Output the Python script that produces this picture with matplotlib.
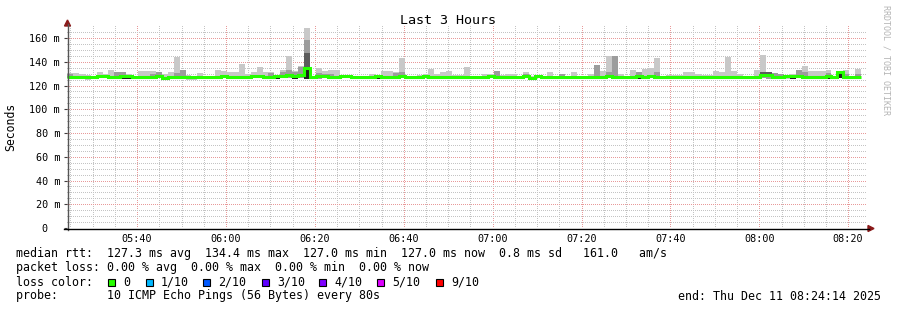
import matplotlib
matplotlib.use("Agg")
import numpy as np
import matplotlib.pyplot as plt
from matplotlib.patches import Rectangle, Polygon
from matplotlib.lines import Line2D
from matplotlib.ticker import FixedLocator

# ---------------- data ----------------
T_START = 24 + 14 / 60.0      # minutes after 05:00 -> 05:24:14
STEP = 80 / 60.0              # 80 s per step
SPAN = 180.0                  # last 3 hours

median_ms = [
    127.0, 127.0, 127.0, 127.0, 127.0, 128.2, 128.2, 127.0, 127.0, 128.2,
    128.2, 127.0, 127.0, 127.0, 127.0, 128.2, 126.6, 127.0, 127.0, 127.0,
    127.0, 127.0, 127.0, 127.0, 127.0, 127.0, 128.2, 127.0, 127.0, 127.0,
    127.0, 128.2, 128.2, 127.0, 127.0, 128.2, 128.2, 128.8, 128.2, 129.0,
    134.5, 127.0, 128.0, 128.0, 127.0, 127.0, 128.2, 128.2, 127.0, 127.0,
    127.0, 127.0, 128.2, 127.0, 127.0, 127.0, 128.2, 127.0, 127.0, 127.0,
    128.2, 127.0, 127.0, 127.0, 127.0, 127.0, 127.0, 127.0, 127.0, 127.0,
    127.0, 128.2, 127.0, 127.0, 127.0, 127.0, 127.0, 128.2, 126.6, 128.2,
    127.0, 127.0, 127.0, 127.0, 127.0, 127.0, 127.0, 127.0, 127.0, 127.0,
    127.0, 128.2, 127.0, 127.0, 127.0, 127.0, 128.2, 127.0, 128.2, 127.0,
    127.0, 127.0, 127.0, 127.0, 127.0, 127.0, 127.0, 127.0, 127.0, 127.0,
    127.0, 127.0, 127.0, 127.0, 127.0, 127.0, 127.0, 128.5, 128.5, 127.0,
    127.0, 128.2, 128.2, 128.2, 127.0, 127.0, 127.0, 127.0, 128.2, 127.0,
    131.0, 127.0, 127.0, 127.0,
]

ping_max = [
    130.8, 130.5, 130.0, 128.5, 128.0, 131.0, 129.5, 133.0, 131.7, 131.7,
    129.5, 128.0, 132.0, 132.0, 132.6, 131.7, 130.0, 131.0, 144.3, 133.0,
    128.5, 128.0, 130.5, 128.0, 128.0, 133.0, 132.0, 131.0, 131.0, 138.4,
    129.5, 131.0, 135.6, 131.4, 131.0, 128.5, 133.3, 144.6, 132.0, 136.4,
    168.7, 128.0, 134.7, 132.0, 133.3, 133.3, 128.5, 128.5, 128.0, 128.0,
    128.0, 129.7, 128.5, 132.0, 132.0, 131.4, 143.4, 128.0, 128.0, 128.5,
    130.0, 134.0, 130.0, 131.0, 132.0, 128.5, 128.7, 135.6, 128.0, 128.0,
    129.5, 129.5, 132.0, 128.5, 130.0, 130.0, 128.0, 131.7, 128.0, 128.5,
    128.0, 131.0, 128.0, 129.5, 128.0, 131.0, 128.0, 128.0, 129.7, 137.3,
    132.5, 144.8, 145.0, 129.5, 128.0, 133.0, 131.0, 134.0, 134.5, 143.4,
    128.0, 129.0, 129.0, 128.5, 131.7, 131.7, 130.0, 129.0, 129.0, 132.0,
    131.0, 144.3, 132.0, 129.7, 128.0, 128.0, 133.5, 145.7, 131.7, 130.2,
    129.5, 128.0, 129.7, 133.0, 136.4, 132.0, 132.0, 132.0, 133.0, 128.0,
    131.0, 133.0, 128.0, 134.0,
]

ping_min = [
    126.0, 126.0, 126.0, 124.6, 126.0, 126.0, 126.0, 126.0, 126.0, 126.0,
    126.0, 125.2, 126.0, 126.0, 126.0, 126.0, 126.0, 126.0, 126.0, 126.0,
    124.6, 125.0, 126.0, 126.0, 126.0, 126.0, 126.0, 126.0, 126.0, 126.0,
    126.0, 126.0, 126.0, 126.0, 125.2, 126.0, 126.0, 126.0, 126.0, 126.0,
    126.0, 126.0, 125.3, 126.0, 126.0, 126.0, 126.0, 126.0, 126.0, 126.0,
    126.0, 126.0, 125.2, 126.0, 126.0, 126.0, 126.0, 126.0, 126.0, 126.0,
    126.0, 126.0, 126.0, 125.2, 126.0, 126.0, 126.0, 126.0, 126.0, 125.2,
    126.0, 126.0, 126.0, 126.0, 126.0, 126.0, 125.5, 126.0, 126.0, 126.0,
    126.0, 126.0, 126.0, 126.0, 126.0, 126.0, 126.0, 126.0, 126.0, 126.0,
    126.0, 126.0, 126.0, 125.2, 126.0, 126.0, 126.0, 126.0, 126.0, 126.0,
    125.4, 126.0, 126.0, 126.0, 126.0, 126.0, 126.0, 126.0, 126.0, 126.0,
    126.0, 126.0, 126.0, 125.2, 126.0, 126.0, 126.0, 126.0, 125.2, 126.0,
    126.0, 125.2, 126.0, 126.0, 126.0, 126.0, 126.0, 126.0, 126.0, 126.0,
    126.0, 126.0, 126.0, 126.0,
]

# medium smoke (sparse)
mid_idx = [0, 8, 9, 14, 15, 18, 19, 34, 36, 37, 38, 39, 40, 42, 43, 44, 55, 56,
           72, 77, 83, 89, 91, 92, 96, 99, 117, 118, 119, 120, 123, 124, 128, 131, 133]
mid_top = [130.0, 131.7, 131.7, 129.5, 131.7, 130.5, 133.0, 130.3, 131.0, 133.0,
           131.0, 135.9, 158.0, 130.5, 129.5, 130.0, 130.5, 131.7, 132.0, 129.5,
           129.5, 137.3, 131.0, 145.0, 131.0, 131.7, 131.7, 131.7, 130.2, 129.5,
           132.8, 131.0, 130.5, 129.5, 129.5]

# dark smoke (sparse)
dark_idx = [40, 117, 118]
dark_lo = [126.0, 128.8, 128.8]
dark_hi = [147.6, 131.3, 131.3]

# darkest core (sparse)
core_idx = [9, 10, 35, 38, 40, 52, 96, 122, 128, 130]
core_lo = [125.8, 125.8, 125.8, 125.6, 125.8, 125.5, 125.8, 125.8, 125.8, 126.5]
core_hi = [127.0, 127.0, 127.0, 127.0, 134.0, 127.0, 127.0, 127.0, 127.0, 130.0]

x_ticks = [40, 60, 80, 100, 120, 140, 160, 180, 200]
x_labels = ["05:40", "06:00", "06:20", "06:40", "07:00", "07:20", "07:40", "08:00", "08:20"]
y_ticks = [0, 20, 40, 60, 80, 100, 120, 140, 160]
y_labels = ["0  ", "20 m", "40 m", "60 m", "80 m", "100 m", "120 m", "140 m", "160 m"]

loss_labels = ["0", "1/10", "2/10", "3/10", "4/10", "5/10", "9/10"]
loss_colors = ["#26ff00", "#00b8ff", "#0059ff", "#5e00ff", "#7e00ff", "#dd00ff", "#ff0000"]

stats_line = "median rtt:  127.3 ms avg  134.4 ms max  127.0 ms min  127.0 ms now  0.8 ms sd   161.0   am/s"
loss_line = "packet loss: 0.00 % avg  0.00 % max  0.00 % min  0.00 % now"
probe_line = "probe:       10 ICMP Echo Pings (56 Bytes) every 80s"
end_line = "end: Thu Dec 11 08:24:14 2025"

# ---------------- figure ----------------
W, H = 897, 310
MONO = "DejaVu Sans Mono"
plt.rcParams["font.family"] = [MONO]
plt.rcParams["lines.scale_dashes"] = False

fig = plt.figure(figsize=(W / 100, H / 100), dpi=100)
fig.patch.set_facecolor("white")


def fx(x):
    return x / W


def fy(y):
    return 1 - y / H


ax = fig.add_axes([fx(67), fy(228), 800 / W, 203 / H])
ax.set_facecolor("white")
ax.set_xlim(T_START, T_START + SPAN)
ax.set_ylim(0, 171)

n = len(median_ms)
t = T_START + np.arange(n) * STEP
med = np.array(median_ms)
pmin = np.array(ping_min)
pmax = np.array(ping_max)

# smoke layers
ax.bar(t, pmax - pmin, bottom=pmin, width=STEP, align="edge",
       color="#c8c8c8", linewidth=0, zorder=2)
mi = np.array(mid_idx)
ax.bar(t[mi], np.array(mid_top) - pmin[mi], bottom=pmin[mi], width=STEP,
       align="edge", color="#9c9c9c", linewidth=0, zorder=3)
di = np.array(dark_idx)
ax.bar(t[di], np.array(dark_hi) - np.array(dark_lo), bottom=dark_lo, width=STEP,
       align="edge", color="#5c5c5c", linewidth=0, zorder=4)
ci = np.array(core_idx)
ax.bar(t[ci], np.array(core_hi) - np.array(core_lo), bottom=core_lo, width=STEP,
       align="edge", color="#1e1e1e", linewidth=0, zorder=5)

# median line
tx = np.append(t, t[-1] + STEP)
my = np.append(med, med[-1])
ax.step(tx, my, where="post", color=loss_colors[0], linewidth=2.2,
        solid_capstyle="butt", solid_joinstyle="miter", zorder=6)

# grid
ax.xaxis.set_major_locator(FixedLocator(x_ticks))
ax.xaxis.set_minor_locator(FixedLocator(np.arange(25, 205, 5)))
ax.yaxis.set_major_locator(FixedLocator(y_ticks))
ax.yaxis.set_minor_locator(FixedLocator(np.arange(5, 170, 5)))
ax.set_xticklabels(x_labels)
ax.set_yticklabels(y_labels)
ax.grid(which="minor", color="#c4c4c4", linestyle=(0, (0.72, 1.44)), linewidth=0.72,
        antialiased=False)
ax.grid(which="major", color="#e89a9a", linestyle=(0, (0.72, 1.44)), linewidth=0.72,
        antialiased=False)
ax.set_axisbelow(True)

ax.tick_params(axis="x", which="both", length=0, pad=4.0, labelsize=7.3, labelcolor="#000000")
ax.tick_params(axis="y", which="major", length=2.5, width=0.8, color="#404040",
               pad=2.5, labelsize=7.3, labelcolor="#000000")
ax.tick_params(axis="y", which="minor", length=0)
for s in ax.spines.values():
    s.set_visible(False)

# axis lines and arrows
fig.add_artist(Line2D([fx(67.5), fx(67.5)], [fy(230), fy(24)], color="#555555",
                      linewidth=1.0, transform=fig.transFigure))
fig.add_artist(Line2D([fx(64), fx(869)], [fy(228.5), fy(228.5)], color="#000000",
                      linewidth=1.0, transform=fig.transFigure))
fig.add_artist(Polygon([(fx(64.5), fy(26)), (fx(70.5), fy(26)), (fx(67.5), fy(20))],
                       closed=True, color="#8b1a1a", transform=fig.transFigure))
fig.add_artist(Polygon([(fx(868), fy(225.5)), (fx(868), fy(231.5)), (fx(874), fy(228.5))],
                       closed=True, color="#8b1a1a", transform=fig.transFigure))

# titles and labels
fig.text(fx(448), fy(20), "Last 3 Hours", ha="center", va="center", fontsize=9.6)
fig.text(fx(11), fy(127), "Seconds", ha="center", va="center", rotation=90, fontsize=8.3)
fig.text(fx(886), fy(5), "RRDTOOL / TOBI OETIKER", ha="center", va="top",
         rotation=270, fontsize=6.0, color="#b4b4b4")

# legend text
FS = 8.4
fig.text(fx(16), fy(254), stats_line, ha="left", va="center", fontsize=FS)
fig.text(fx(16), fy(268), loss_line, ha="left", va="center", fontsize=FS)
fig.text(fx(16), fy(282), "loss color:", ha="left", va="center", fontsize=FS)
fig.text(fx(16), fy(296), probe_line, ha="left", va="center", fontsize=FS)
fig.text(fx(881), fy(296), end_line, ha="right", va="center", fontsize=FS)

sq_x = [108, 146, 203, 262, 319, 377, 436]
for xs, lab, col in zip(sq_x, loss_labels, loss_colors):
    fig.add_artist(Rectangle((fx(xs), fy(286)), 7 / W, 7 / H, facecolor=col,
                             edgecolor="black", linewidth=0.8, transform=fig.transFigure))
    fig.text(fx(xs + 15), fy(282), lab, ha="left", va="center", fontsize=FS)

fig.savefig("out.png", dpi=100, facecolor="white")
